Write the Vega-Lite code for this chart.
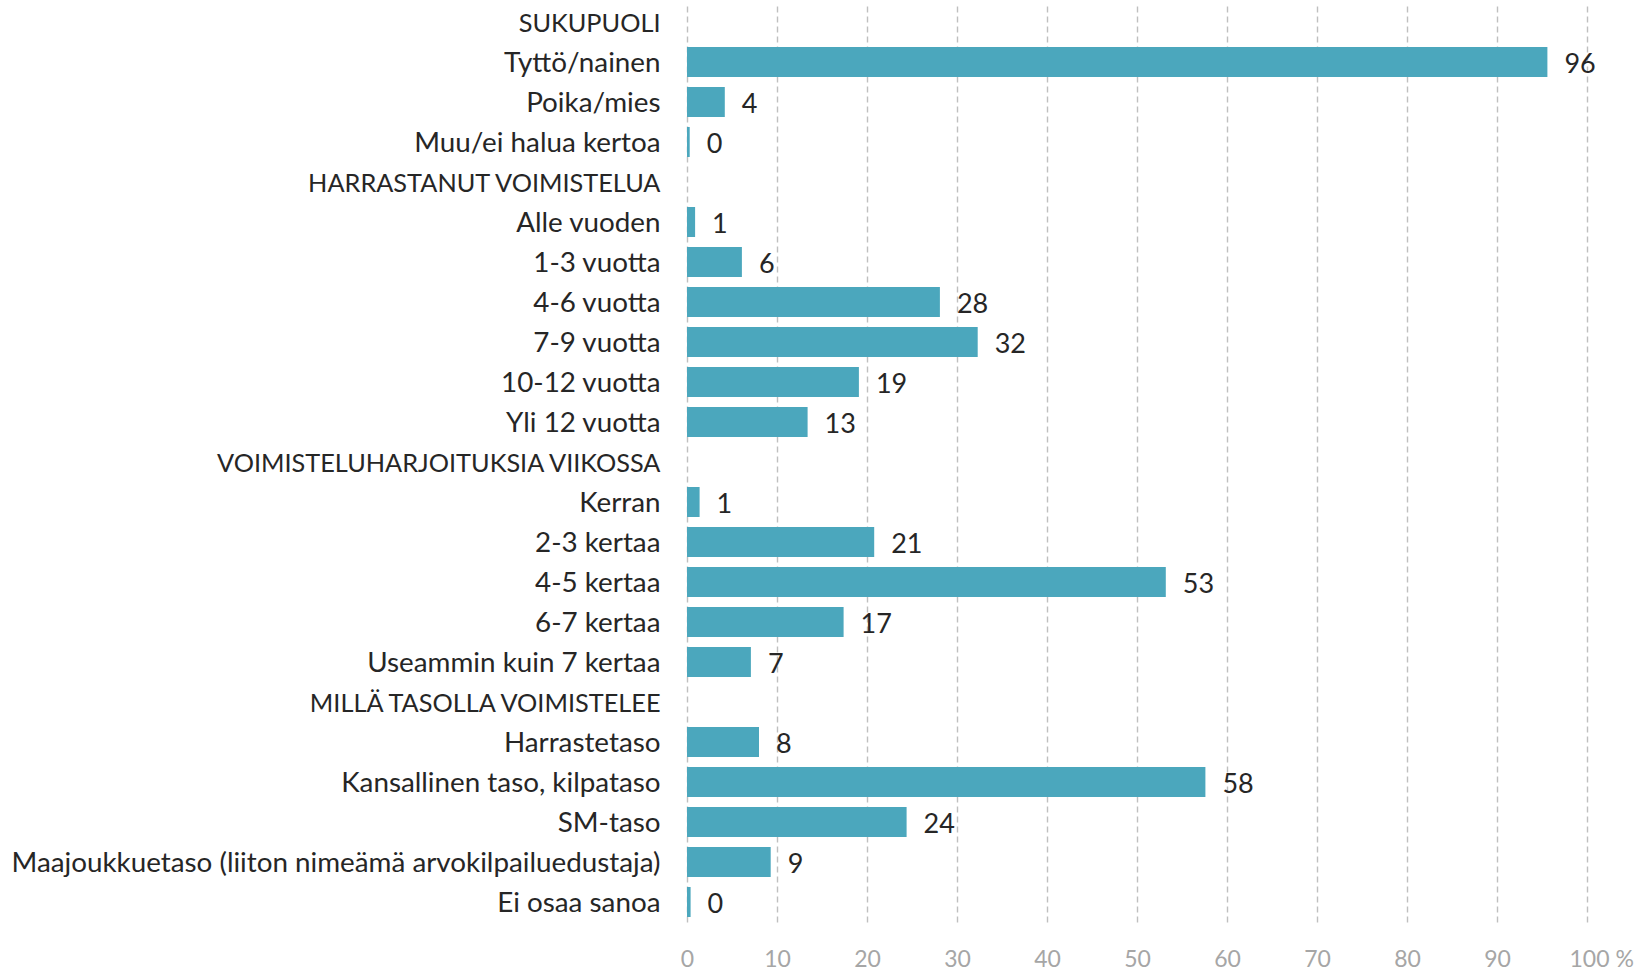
{
  "$schema": "https://vega.github.io/schema/vega-lite/v6.json",
  "width": 900,
  "height": 920,
  "autosize": {"type": "none"},
  "padding": {"left": 687, "top": 2, "right": 57, "bottom": 48},
  "background": "white",
  "config": {"view": {"stroke": null}, "font": "Lato"},
  "data": {
    "values": [
      {"category": "SUKUPUOLI", "value": null},
      {"category": "Tyttö/nainen", "value": 95.6},
      {"category": "Poika/mies", "value": 4.2},
      {"category": "Muu/ei halua kertoa", "value": 0.3},
      {"category": "HARRASTANUT VOIMISTELUA", "value": null},
      {"category": "Alle vuoden", "value": 0.9},
      {"category": "1-3 vuotta", "value": 6.1},
      {"category": "4-6 vuotta", "value": 28.1},
      {"category": "7-9 vuotta", "value": 32.3},
      {"category": "10-12 vuotta", "value": 19.1},
      {"category": "Yli 12 vuotta", "value": 13.4},
      {"category": "VOIMISTELUHARJOITUKSIA VIIKOSSA", "value": null},
      {"category": "Kerran", "value": 1.4},
      {"category": "2-3 kertaa", "value": 20.8},
      {"category": "4-5 kertaa", "value": 53.2},
      {"category": "6-7 kertaa", "value": 17.4},
      {"category": "Useammin kuin 7 kertaa", "value": 7.1},
      {"category": "MILLÄ TASOLLA VOIMISTELEE", "value": null},
      {"category": "Harrastetaso", "value": 8.0},
      {"category": "Kansallinen taso, kilpataso", "value": 57.6},
      {"category": "SM-taso", "value": 24.4},
      {"category": "Maajoukkuetaso (liiton nimeämä arvokilpailuedustaja)", "value": 9.3},
      {"category": "Ei osaa sanoa", "value": 0.4}
    ]
  },
  "encoding": {
    "y": {
      "field": "category",
      "type": "nominal",
      "scale": {
        "domain": ["SUKUPUOLI", "Tyttö/nainen", "Poika/mies", "Muu/ei halua kertoa", "HARRASTANUT VOIMISTELUA", "Alle vuoden", "1-3 vuotta", "4-6 vuotta", "7-9 vuotta", "10-12 vuotta", "Yli 12 vuotta", "VOIMISTELUHARJOITUKSIA VIIKOSSA", "Kerran", "2-3 kertaa", "4-5 kertaa", "6-7 kertaa", "Useammin kuin 7 kertaa", "MILLÄ TASOLLA VOIMISTELEE", "Harrastetaso", "Kansallinen taso, kilpataso", "SM-taso", "Maajoukkuetaso (liiton nimeämä arvokilpailuedustaja)", "Ei osaa sanoa"],
        "paddingInner": 0.25,
        "paddingOuter": 0.125
      },
      "axis": {
        "title": null,
        "domain": false,
        "ticks": false,
        "labelPadding": 27,
        "labelLimit": 0,
        "labelFontSize": {"condition": {"test": "datum.value == upper(datum.value)", "value": 25.3}, "value": 27.8},
        "labelOffset": 2,
        "labelColor": "#262626",
        "labelFont": "Lato"
      }
    }
  },
  "layer": [
    {
      "mark": {"type": "bar", "color": "#4ba7bd"},
      "encoding": {
        "x": {
          "field": "value",
          "type": "quantitative",
          "scale": {"domain": [0, 100], "nice": false},
          "axis": {
            "title": null,
            "values": [0, 10, 20, 30, 40, 50, 60, 70, 80, 90, 100],
            "grid": true,
            "gridDash": [6, 4],
            "gridColor": "#bfbfbf",
            "gridWidth": 1.4,
            "domain": false,
            "ticks": false,
            "labelPadding": 26,
            "labelFontSize": 23,
            "labelColor": "#a6a6a6",
            "labelFont": "Lato",
            "labelExpr": "datum.value == 100 ? '100 %' : datum.label",
            "labelAlign": {"condition": {"test": "datum.value == 100", "value": "left"}, "value": "center"},
            "labelOffset": {"condition": {"test": "datum.value == 100", "value": -18}, "value": 0}
          }
        }
      }
    },
    {
      "mark": {"type": "text", "align": "left", "baseline": "middle", "dx": 17, "dy": 3, "fontSize": 27, "color": "#262626", "font": "Lato"},
      "encoding": {
        "x": {"field": "value", "type": "quantitative"},
        "text": {"field": "value", "type": "quantitative", "format": ".0f"}
      }
    }
  ]
}
